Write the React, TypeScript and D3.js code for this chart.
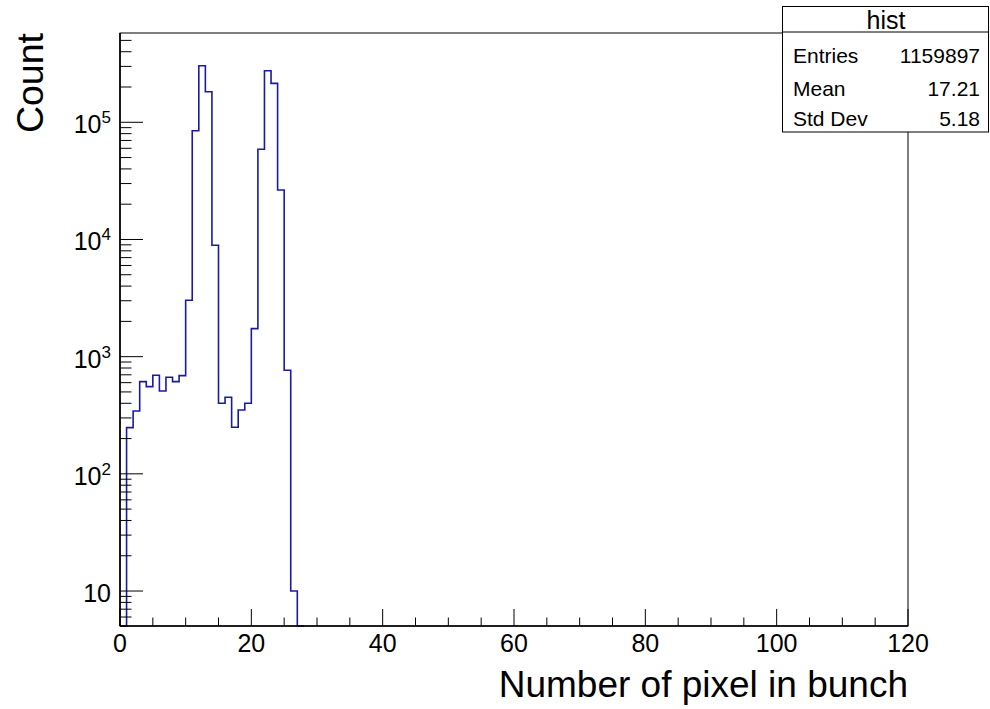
import React from "react";
import * as d3 from "d3";

// Bin lower edges (width 1) and counts per bin
const binStarts = [0, 1, 2, 3, 4, 5, 6, 7, 8, 9, 10, 11, 12, 13, 14, 15, 16, 17, 18, 19, 20, 21, 22, 23, 24, 25, 26, 27];
const counts = [0, 248, 344, 612, 555, 693, 510, 667, 612, 689, 3030, 84800, 304000, 182000, 8940, 400, 450, 250, 351, 400, 1733, 58900, 275600, 215000, 26400, 765, 10, 0];

const xMajorTicks = [0, 20, 40, 60, 80, 100, 120];
const yMajorExponents = [1, 2, 3, 4, 5];

const statsTitle = "hist";
const statsLabels = ["Entries", "Mean", "Std Dev"];
const statsValues = ["1159897", "17.21", "5.18"];

const xTitle = "Number of pixel in bunch";
const yTitle = "Count";

const W = 990;
const H = 709;
const FL = 120, FR = 908, FT = 33, FB = 626;
const FONT = "'Liberation Sans', Arial, Helvetica, sans-serif";

export default function App() {
  const x = d3.scaleLinear().domain([0, 120]).range([FL, FR]);
  const y = d3.scaleLog().domain([5.03, 5.78e5]).range([FB, FT]);

  const yc = (v: number) => (v > 0 ? Math.max(FT, Math.min(FB, y(v))) : FB);

  const pts: [number, number][] = [];
  binStarts.forEach((lo, i) => {
    const yy = yc(counts[i]);
    pts.push([x(lo), yy]);
    pts.push([x(lo + 1), yy]);
  });
  const path = d3.line()(pts) || "";

  const xMinor = x.ticks(24).filter((t) => !xMajorTicks.includes(t));
  const yAll = y.ticks().filter((t) => t >= 5.03 && t <= 5.78e5);
  const isMajor = (t: number) => Math.abs(Math.log10(t) - Math.round(Math.log10(t))) < 1e-9;

  return (
    <svg width={W} height={H} style={{ position: "absolute", left: 0, top: 0, background: "#fff" }}>
      <rect x={0} y={0} width={W} height={H} fill="#fff" />
      {/* histogram */}
      <path d={path} fill="none" stroke="#1a1aa3" strokeWidth={1.6} />
      {/* frame */}
      <rect x={FL} y={FT} width={FR - FL} height={FB - FT} fill="none" stroke="#000" strokeWidth={1} />
      <line x1={FL} x2={FL} y1={FT} y2={FB} stroke="#000" strokeWidth={1.6} />
      <line x1={FL} x2={FR} y1={FB} y2={FB} stroke="#000" strokeWidth={1.6} />
      {/* x ticks */}
      {xMajorTicks.map((t) => (
        <g key={"xM" + t}>
          <line x1={x(t)} x2={x(t)} y1={FB} y2={FB - 17} stroke="#000" strokeWidth={1} />
          <text x={x(t)} y={652} textAnchor="middle" fontFamily={FONT} fontSize={25} fill="#000">
            {t}
          </text>
        </g>
      ))}
      {xMinor.map((t) => (
        <line key={"xm" + t} x1={x(t)} x2={x(t)} y1={FB} y2={FB - 8.5} stroke="#000" strokeWidth={1} />
      ))}
      {/* y ticks */}
      {yAll.map((t) => (
        <line
          key={"y" + t}
          x1={FL}
          x2={FL + (isMajor(t) ? 23 : 11.5)}
          y1={y(t)}
          y2={y(t)}
          stroke="#000"
          strokeWidth={1}
        />
      ))}
      {yMajorExponents.map((e) => (
        <text
          key={"yl" + e}
          x={111}
          y={y(Math.pow(10, e)) + 11}
          textAnchor="end"
          fontFamily={FONT}
          fontSize={25}
          fill="#000"
        >
          10
          {e > 1 ? (
            <tspan dy={-10} fontSize={17}>
              {e}
            </tspan>
          ) : null}
        </text>
      ))}
      {/* axis titles */}
      <text x={FR} y={697} textAnchor="end" fontFamily={FONT} fontSize={37} fill="#000">
        {xTitle}
      </text>
      <text
        transform={`translate(43,${FT}) rotate(-90)`}
        textAnchor="end"
        fontFamily={FONT}
        fontSize={37.5}
        fill="#000"
      >
        {yTitle}
      </text>
      {/* stats box */}
      <rect x={782.5} y={6.5} width={206} height={125.5} fill="#fff" stroke="#000" strokeWidth={1} />
      <line x1={782.5} x2={988.5} y1={32} y2={32} stroke="#000" strokeWidth={1} />
      <text x={886} y={29} textAnchor="middle" fontFamily={FONT} fontSize={25} fill="#000">
        {statsTitle}
      </text>
      {statsLabels.map((l, i) => (
        <g key={l}>
          <text x={793} y={[62.5, 95.5, 126][i]} fontFamily={FONT} fontSize={21} fill="#000">
            {l}
          </text>
          <text x={980} y={[62.5, 95.5, 126][i]} textAnchor="end" fontFamily={FONT} fontSize={21} fill="#000">
            {statsValues[i]}
          </text>
        </g>
      ))}
    </svg>
  );
}
